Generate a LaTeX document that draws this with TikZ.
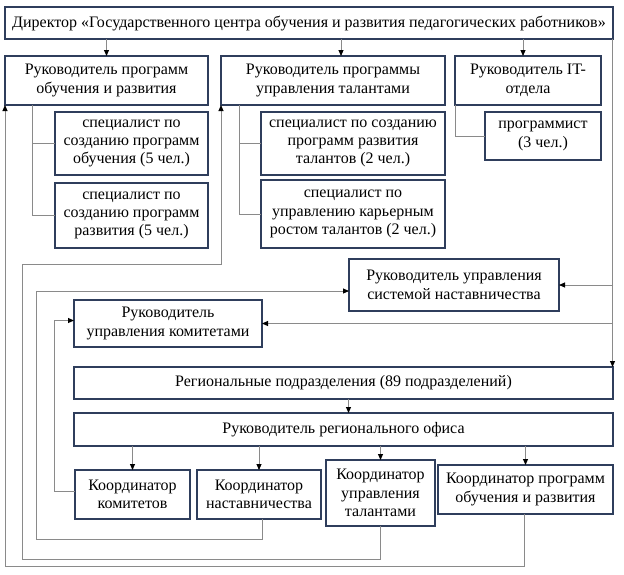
\documentclass[tikz,border=0pt]{standalone}
\usepackage{fontspec}
\setmainfont{Liberation Serif}
\usetikzlibrary{arrows.meta}
\definecolor{boxblue}{HTML}{2F3E5C}
\definecolor{linegray}{HTML}{8A8A8A}

\begin{document}
\begin{tikzpicture}[x=1pt,y=-1pt,
		blocknode/.style={draw=boxblue,line width=1.1pt,align=center,inner sep=1pt,outer sep=0pt,font=\rmfamily\fontsize{16}{18.4}\selectfont},
		plainline/.style={draw=linegray,line width=0.9pt},
		arrowline/.style={plainline,-{Triangle[length=6pt,width=5pt,color=black]}}]
		\useasboundingbox (0,0) rectangle (624,574);

		\node[blocknode,minimum width=608pt,minimum height=32pt]	(dir)	at (309,23)		{Директор «Государственного центра обучения и развития педагогических работников»};
		\node[blocknode,minimum width=203pt,minimum height=49pt]	(ruk1)	at (106.5,80.5)	{Руководитель программ\\обучения и развития};
		\node[blocknode,minimum width=224pt,minimum height=49pt]	(ruk2)	at (333,80.5)	{Руководитель программы\\управления талантами};
		\node[blocknode,minimum width=146pt,minimum height=49pt]	(ruk3)	at (528,80.5)	{Руководитель IT-\\отдела};
		\node[blocknode,minimum width=153pt,minimum height=63pt]	(sp1)	at (131.5,143.5){специалист по\\созданию программ\\обучения (5 чел.)};
		\node[blocknode,minimum width=153pt,minimum height=65pt]	(sp2)	at (131.5,215.5){специалист по\\созданию программ\\развития (5 чел.)};
		\node[blocknode,minimum width=184pt,minimum height=63pt]	(sp3)	at (353,143.5)	{специалист по созданию\\программ развития\\талантов (2 чел.)};
		\node[blocknode,minimum width=184pt,minimum height=68pt]	(sp4)	at (353,214)	{специалист по\\управлению карьерным\\ростом талантов (2 чел.)};
		\node[blocknode,minimum width=116pt,minimum height=48pt]	(prog)	at (543,136)	{программист\\(3 чел.)};
		\node[blocknode,minimum width=210pt,minimum height=52pt]	(ment)	at (454,285)	{Руководитель управления\\системой наставничества};
		\node[blocknode,minimum width=188pt,minimum height=47pt]	(komh)	at (168,323.5)	{Руководитель\\управления комитетами};
		\node[blocknode,minimum width=539pt,minimum height=32pt]	(reg)	at (343.5,383)	{Региональные подразделения (89 подразделений)};
		\node[blocknode,minimum width=539pt,minimum height=33pt]	(regof)	at (343.5,429.5){Руководитель регионального офиса};
		\node[blocknode,minimum width=115pt,minimum height=49pt]	(c1)	at (132.5,494.5){Координатор\\комитетов};
		\node[blocknode,minimum width=124pt,minimum height=49pt]	(c2)	at (259,494.5)	{Координатор\\наставничества};
		\node[blocknode,minimum width=109pt,minimum height=66pt]	(c3)	at (380.5,493)	{Координатор\\управления\\талантами};
		\node[blocknode,minimum width=175pt,minimum height=49pt]	(c4)	at (525.5,489.5){Координатор программ\\обучения и развития};

		% director to heads
		\draw[arrowline] (dir.south -| ruk1.north) -- (ruk1.north);
		\draw[arrowline] ([xshift=8pt]ruk2.north |- dir.south) -- ([xshift=8pt]ruk2.north);
		\draw[arrowline] ([xshift=-5pt]ruk3.north |- dir.south) -- ([xshift=-5pt]ruk3.north);

		% heads to specialists
		\draw[plainline] ([xshift=27pt]ruk1.south west) |- (sp1.west);
		\draw[plainline] ([xshift=27pt]ruk1.south west) |- (sp2.west);
		\draw[plainline] ([xshift=18pt]ruk2.south west) |- (sp3.west);
		\draw[plainline] ([xshift=18pt]ruk2.south west) |- (sp4.west);
		\draw[plainline] ([xshift=0.5pt]ruk3.south west) |- (prog.west);

		% right trunk
		\draw[arrowline] ([xshift=-0.5pt]dir.south east) -- ([xshift=-0.5pt]reg.north east);
		\draw[arrowline] (dir.south east |- ment.east) -- (ment.east);
		\draw[arrowline] (dir.south east |- komh.east) -- (komh.east);

		% regional offices
		\draw[arrowline] ([xshift=5pt]reg.south) -- ([xshift=5pt]regof.north);
		\draw[arrowline] (regof.south -| c1.north) -- (c1.north);
		\draw[arrowline] (regof.south -| c2.north) -- (c2.north);
		\draw[arrowline] (regof.south -| c3.north) -- (c3.north);
		\draw[arrowline] (regof.south -| c4.north) -- (c4.north);

		% coordinators back to heads
		\draw[arrowline] ([xshift=-1.5pt]c4.south) -- ++(0,52) -| (ruk1.south west);
		\draw[arrowline] (c3.south) -- ++(0,33) -| (22,264) -| (ruk2.south west);
		\draw[arrowline] ([xshift=3pt]c2.south) -- ++(0,20) -| (36,291) -- ([yshift=-6pt]ment.west);
		\draw[arrowline] ([yshift=3pt]c1.west) -| (54,320.5) -- ([yshift=3pt]komh.west);
	\end{tikzpicture}
\end{document}
